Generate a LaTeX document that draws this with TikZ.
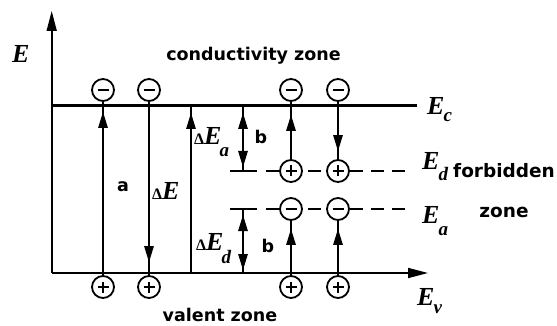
\documentclass[tikz,border=0pt]{standalone}
\usepackage{fontspec}
\setmainfont{Liberation Serif}
\newfontfamily\zonefont{DejaVu Sans}
\usetikzlibrary{arrows.meta,decorations.markings}

\newcommand{\Esub}[2]{\textbf{\textit{E}}\kern-1pt\lower#2\hbox{\fontsize{19}{19}\selectfont\textbf{\textit{#1}}}}
\newcommand{\dE}{{\fontsize{16}{16}\selectfont\textbf{Δ}}\textbf{\textit{E}}}

\begin{document}
\begin{tikzpicture}[
    x=1pt, y=-1pt,
    axis/.style={
        line width=1.6pt,
        -{Triangle[length=20pt,width=10pt]}
    },
    level/.style={
        line width=3pt
    },
    conn/.style={
        line width=1.3pt
    },
    sublevel/.style={
        line width=1.3pt,
        dash pattern=on 13pt off 8pt
    },
    carrier/.style={
        circle,
        draw,
        line width=1.8pt,
        fill=white,
        minimum size=22pt,
        inner sep=0pt
    },
    minus/.style={
        carrier,
        path picture={\draw[line width=1.2pt]
            ([xshift=-5.5pt]path picture bounding box.center) --
            ([xshift=5.5pt]path picture bounding box.center);}
    },
    plus/.style={
        carrier,
        path picture={\draw[line width=1.2pt]
            ([xshift=-5.5pt]path picture bounding box.center) --
            ([xshift=5.5pt]path picture bounding box.center)
            ([yshift=-5.5pt]path picture bounding box.center) --
            ([yshift=5.5pt]path picture bounding box.center);}
    },
    tipat/.style={
        postaction={decorate},
        decoration={markings,
            mark=at position #1 with {\arrow{Triangle[length=16pt,width=9.5pt]}}}
    },
    twotips/.style 2 args={
        postaction={decorate},
        decoration={markings,
            mark=at position #1 with {\arrowreversed{Triangle[length=16pt,width=9.5pt]}},
            mark=at position #2 with {\arrow{Triangle[length=16pt,width=9.5pt]}}}
    },
    zone/.style={
        font=\zonefont\bfseries\fontsize{17.5}{18}\selectfont,
        inner sep=0pt
    },
    elabel/.style={
        font=\fontsize{26}{26}\selectfont,
        inner sep=0pt,
        anchor=base west
    }
]
\useasboundingbox (0,0) rectangle (557,326);

% Axes and levels
\coordinate (o) at (51.7,273);
\coordinate (ytop) at (51.7,11);
\coordinate (xtip) at (428,273);
\coordinate (c0) at (51.7,106);
\coordinate (c1) at (417,106);

\coordinate (ed0) at (230,171);
\coordinate (ed1) at (257,171);
\coordinate (ed2) at (266,171);
\coordinate (ed3) at (409,171);
\coordinate (ea0) at (230,209);
\coordinate (ea1) at (257,209);
\coordinate (ea2) at (266,209);
\coordinate (ea3) at (409,209);

\draw[axis] (o) -- (ytop);
\draw[axis] (o) -- (xtip);
\draw[level] (c0) -- (c1);
\draw[conn] (ed0) -- (ed1);
\draw[conn] (ea0) -- (ea1);
\draw[sublevel] (ed2) -- (ed3);
\draw[sublevel] (ea2) -- (ea3);

% Carriers
\node[minus] (n1) at (103,90) {};
\node[minus] (n2) at (149,90) {};
\node[minus] (n3) at (291,90) {};
\node[minus] (n4) at (338,90) {};
\node[plus] (d1) at (291,171) {};
\node[plus] (d2) at (338,171) {};
\node[minus] (a1) at (291,209) {};
\node[minus] (a2) at (338,209) {};
\node[plus] (p1) at (103,287) {};
\node[plus] (p2) at (149,287) {};
\node[plus] (p3) at (291,287) {};
\node[plus] (p4) at (338,287) {};

% Transitions
\coordinate (ga) at (191,273);
\coordinate (gc) at (191,106);
\coordinate (bu0) at (243,106);
\coordinate (bu1) at (243,171);
\coordinate (bl0) at (243,209);
\coordinate (bl1) at (243,273);

\draw[conn, tipat=-10pt] (p1) -- (n1);
\draw[conn, tipat=-13pt] (n2) -- (p2);
\draw[conn, tipat=-7pt] (ga) -- (gc);
\draw[conn, twotips={7pt}{-4pt}] (bu0) -- (bu1);
\draw[conn, twotips={6pt}{-3pt}] (bl0) -- (bl1);
\draw[conn, tipat=-13pt] (d1) -- (n3);
\draw[conn, tipat=-8pt] (n4) -- (d2);
\draw[conn, tipat=-8pt] (p3) -- (a1);
\draw[conn, tipat=-8pt] (p4) -- (a2);

% Labels
\node[zone, anchor=base] (cz) at (253.5,61) {conductivity zone};
\node[zone, anchor=base] (vz) at (220,321) {valent zone};
\node[zone, anchor=base west, font=\zonefont\bfseries\fontsize{18.5}{19}\selectfont] (fz) at (453,178) {forbidden};
\node[zone, anchor=base, font=\zonefont\bfseries\fontsize{18.5}{19}\selectfont] (fz2) at (504,217) {zone};
\node[zone, anchor=base] (la) at (123,192) {a};
\node[zone, anchor=base] (lb1) at (261,143) {b};
\node[zone, anchor=base] (lb2) at (268,252) {b};

\node[elabel] (le) at (12,63) {\textbf{\textit{E}}};
\node[elabel] (lec) at (427,115) {\Esub{c}{7pt}};
\node[elabel] (led) at (422,170) {\Esub{d}{10pt}};
\node[elabel] (lea) at (422,223) {\Esub{a}{12pt}};
\node[elabel] (lev) at (417,305) {\Esub{v}{8pt}};
\node[elabel] (lde) at (152,199) {\dE};
\node[elabel] (ldea) at (194,145) {\dE\kern-2pt\lower12pt\hbox{\fontsize{19}{19}\selectfont\textbf{\textit{a}}}};
\node[elabel] (lded) at (196,250) {\dE\kern-2pt\lower13pt\hbox{\fontsize{19}{19}\selectfont\textbf{\textit{d}}}};

\end{tikzpicture}
\end{document}
